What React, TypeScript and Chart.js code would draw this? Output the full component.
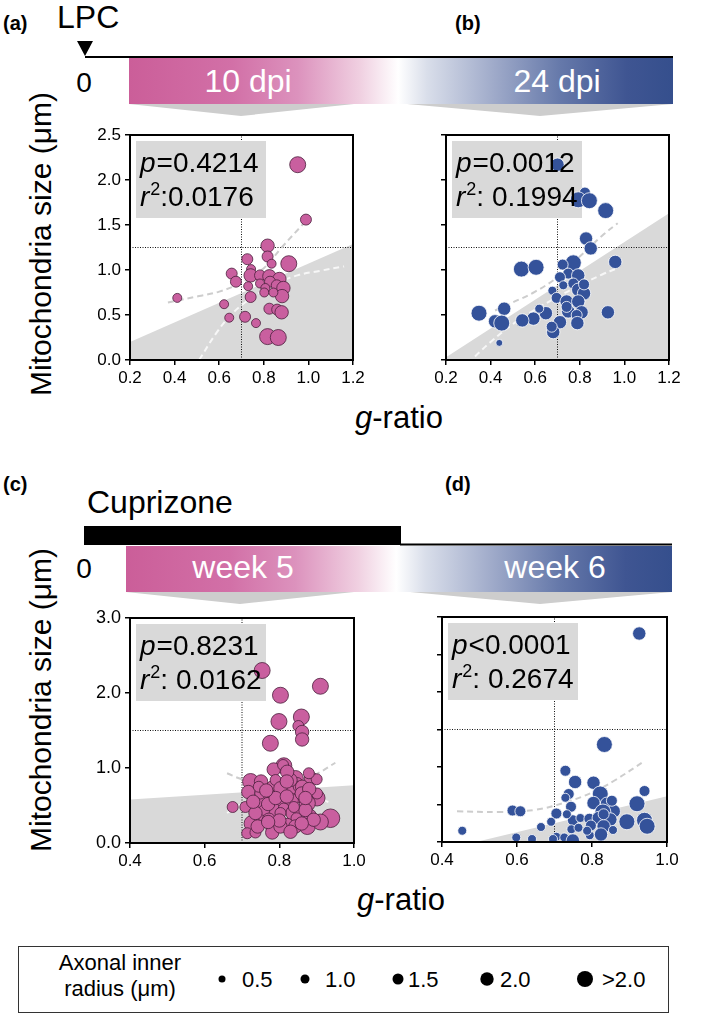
import React, { useEffect, useRef } from "react";
import { Chart, registerables } from "chart.js";
Chart.register(...registerables);

const FONT = "'Liberation Sans', Arial, Helvetica, sans-serif";

// ---------- data: [g-ratio, mitochondria size (µm), axonal inner radius (µm)] ----------
const lpc10Points: number[][] = [
  [0.952, 2.17, 2.5], [0.989, 1.56, 1.5], [0.817, 1.27, 2], [0.912, 1.07, 2.5], [0.726, 1.12, 1.5],
  [0.817, 1.15, 1.5], [0.835, 1.07, 1], [0.656, 0.96, 1.5], [0.675, 0.87, 1.5], [0.743, 1.01, 1],
  [0.741, 0.94, 2], [0.783, 0.94, 1.5], [0.825, 0.93, 2], [0.87, 0.9, 2], [0.73, 0.82, 1],
  [0.783, 0.85, 1], [0.828, 0.87, 1.5], [0.807, 0.8, 1], [0.858, 0.83, 1.5], [0.888, 0.8, 2],
  [0.882, 0.71, 2], [0.802, 0.75, 1], [0.741, 0.7, 1.5], [0.843, 0.75, 1], [0.622, 0.62, 1],
  [0.645, 0.47, 1], [0.716, 0.48, 1.5], [0.765, 0.41, 1], [0.825, 0.57, 1.5], [0.86, 0.56, 1.5],
  [0.88, 0.53, 2], [0.817, 0.26, 2.5], [0.865, 0.25, 2.5], [0.412, 0.69, 1],
];
const lpc24Points: number[][] = [
  [0.7, 2.17, 2], [0.823, 1.86, 1.5], [0.793, 1.78, 2.5], [0.843, 1.77, 2.5], [0.916, 1.66, 2.5],
  [0.828, 1.35, 2], [0.849, 1.24, 2], [0.959, 1.09, 2], [0.538, 1.01, 2.5], [0.604, 1.03, 2.5],
  [0.771, 1.08, 2.5], [0.723, 1.06, 1.5], [0.748, 0.96, 1.5], [0.793, 0.94, 2], [0.711, 0.92, 1.5],
  [0.771, 0.85, 1.5], [0.726, 0.83, 1], [0.793, 0.78, 2], [0.819, 0.74, 2], [0.677, 0.77, 1],
  [0.696, 0.69, 1.5], [0.741, 0.65, 2], [0.793, 0.65, 2], [0.808, 0.53, 2], [0.748, 0.54, 2],
  [0.741, 0.59, 1.5], [0.786, 0.5, 1.5], [0.789, 0.41, 2], [0.711, 0.42, 2], [0.681, 0.31, 2],
  [0.648, 0.52, 2], [0.618, 0.57, 1], [0.592, 0.46, 2], [0.542, 0.44, 2], [0.926, 0.53, 2],
  [0.348, 0.52, 2.5], [0.461, 0.57, 2], [0.42, 0.43, 2], [0.45, 0.41, 2.5], [0.439, 0.19, 0.5],
  [0.674, 0.37, 1.5], [0.819, 0.84, 1.5],
];
const cpz5Points: number[][] = [
  [0.754, 2.3, 2.5], [0.91, 2.09, 2.5], [0.803, 1.97, 2.5], [0.859, 1.68, 2.5], [0.799, 1.62, 2.5],
  [0.851, 1.56, 1.5], [0.861, 1.48, 2], [0.861, 1.38, 2], [0.776, 1.33, 2.5], [0.812, 1.03, 2.5],
  [0.785, 0.98, 2], [0.723, 0.82, 2.5], [0.751, 0.82, 2], [0.843, 0.86, 2.5], [0.885, 0.86, 2],
  [0.9, 0.85, 1.5], [0.848, 0.8, 1.5], [0.828, 0.71, 2], [0.785, 0.73, 2.5], [0.717, 0.68, 2],
  [0.776, 0.62, 2], [0.852, 0.61, 1.5], [0.901, 0.6, 2.5], [0.709, 0.48, 1.5], [0.675, 0.48, 1.5],
  [0.754, 0.55, 2], [0.812, 0.53, 2], [0.833, 0.57, 2], [0.875, 0.53, 2.5], [0.781, 0.44, 2.5],
  [0.812, 0.46, 1.5], [0.754, 0.34, 2], [0.839, 0.4, 2.5], [0.879, 0.35, 2.5], [0.937, 0.33, 3],
  [0.846, 0.33, 1.5], [0.727, 0.26, 2.5], [0.785, 0.22, 2.5], [0.821, 0.24, 2], [0.875, 0.22, 2.5],
  [0.714, 0.13, 1.5], [0.736, 0.14, 1.5], [0.781, 0.14, 2], [0.843, 0.22, 2], [0.91, 0.28, 2.5],
  [0.81, 1.04, 1.5], [0.749, 0.66, 1.5], [0.803, 0.4, 1.5], [0.852, 0.75, 1.5], [0.83, 0.84, 2],
  [0.79, 0.84, 1.5], [0.901, 0.66, 1.5], [0.87, 0.44, 2], [0.839, 0.48, 1.5], [0.76, 0.44, 1.5],
  [0.736, 0.4, 2], [0.745, 0.75, 1.5], [0.803, 0.73, 2], [0.821, 0.95, 2], [0.879, 0.93, 1.5],
  [0.861, 0.75, 2], [0.803, 0.22, 2], [0.892, 0.31, 2], [0.772, 0.31, 2],
  [0.73, 0.55, 2], [0.77, 0.52, 2], [0.79, 0.6, 2], [0.82, 0.62, 2], [0.86, 0.66, 2],
  [0.88, 0.72, 2], [0.742, 0.22, 2], [0.8, 0.3, 2], [0.86, 0.26, 2], [0.83, 0.15, 2],
  [0.765, 0.7, 2], [0.82, 0.82, 2], [0.87, 0.6, 2], [0.77, 0.28, 2],
];
const cpz6Points: number[][] = [
  [0.926, 2.78, 2], [0.833, 1.3, 2.5], [0.729, 0.95, 1.5], [0.755, 0.8, 2], [0.804, 0.79, 2],
  [0.738, 0.64, 1.5], [0.822, 0.64, 2.5], [0.94, 0.68, 1.5], [0.729, 0.59, 1], [0.92, 0.51, 2.5],
  [0.804, 0.52, 2], [0.84, 0.51, 2], [0.744, 0.47, 1.5], [0.588, 0.42, 1.5], [0.609, 0.41, 1.5],
  [0.705, 0.38, 1.5], [0.858, 0.41, 2], [0.829, 0.4, 2.5], [0.749, 0.29, 1.5], [0.769, 0.32, 1],
  [0.793, 0.31, 1.5], [0.818, 0.32, 2], [0.849, 0.3, 2], [0.893, 0.27, 2.5], [0.94, 0.29, 2.5],
  [0.947, 0.21, 2.5], [0.691, 0.27, 1], [0.664, 0.2, 1], [0.797, 0.22, 1.5], [0.831, 0.21, 2],
  [0.745, 0.17, 1], [0.856, 0.16, 1], [0.794, 0.09, 1], [0.824, 0.1, 2], [0.705, 0.07, 1],
  [0.726, 0.06, 1], [0.749, 0.02, 2], [0.696, 0.04, 1], [0.64, 0.04, 1], [0.598, 0.06, 1],
  [0.454, 0.15, 1], [0.764, 0.19, 1], [0.787, 0.15, 1], [0.831, 0.37, 1.5], [0.853, 0.55, 1.5],
  [0.733, 0.37, 1],
];

// confidence bands (upper / lower) [g-ratio, size]
const lpc10Upper: number[][] = [[0.37, 0.64], [0.51, 0.71], [0.6, 0.76], [0.7, 0.86], [0.8, 1.02], [0.88, 1.25], [0.98, 1.52]];
const lpc10Lower: number[][] = [[0.51, 0.0], [0.59, 0.31], [0.66, 0.52], [0.74, 0.68], [0.85, 0.84], [0.95, 0.94], [1.05, 0.99], [1.16, 1.04]];
const lpc24Upper: number[][] = [[0.42, 0.55], [0.5, 0.64], [0.6, 0.76], [0.7, 0.92], [0.8, 1.15], [0.9, 1.38], [0.97, 1.52]];
const lpc24Lower: number[][] = [[0.33, 0.04], [0.4, 0.2], [0.5, 0.4], [0.6, 0.56], [0.7, 0.7], [0.8, 0.83], [0.9, 0.95], [0.97, 1.02]];
const cpz5Upper: number[][] = [[0.66, 0.93], [0.7, 0.85], [0.75, 0.8], [0.8, 0.79], [0.85, 0.82], [0.9, 0.92], [0.95, 1.07]];
const cpz5Lower: number[][] = [[0.66, 0.4], [0.7, 0.52], [0.75, 0.6], [0.8, 0.63], [0.85, 0.64], [0.9, 0.6], [0.94, 0.53]];
const cpz6Upper: number[][] = [[0.44, 0.41], [0.55, 0.4], [0.65, 0.43], [0.73, 0.53], [0.8, 0.66], [0.86, 0.82], [0.94, 1.08]];
const cpz6Lower: number[][] = [];

// shaded regions (upper edge, filled down to 0)
const lpc10Shade: number[][] = [[0.2, 0.2], [1.2, 1.29]];
const lpc24Shade: number[][] = [[0.2, 0.03], [1.2, 1.63]];
const cpz5Shade: number[][] = [[0.4, 0.58], [1.0, 0.77]];
const cpz6Shade: number[][] = [[0.49, 0.0], [1.0, 0.61]];

// reference lines
const gRatioRef = 0.7;
const lpcSizeRef = 1.25;
const cpzSizeRef = 1.5;

// ticks
const lpcXTicks = [0.2, 0.4, 0.6, 0.8, 1.0, 1.2];
const lpcYTicks = [0, 0.5, 1.0, 1.5, 2.0, 2.5];
const cpzXTicks = [0.4, 0.6, 0.8, 1.0];
const cpzYTicksLabeled = [0, 1.0, 2.0, 3.0];
const cpzYTicksMinor = [0, 0.5, 1.0, 1.5, 2.0, 2.5, 3.0];

// statistics
const pValues = ["=0.4214", "=0.0012", "=0.8231", "<0.0001"];
const r2Values = [":0.0176", ": 0.1994", ": 0.0162", ": 0.2674"];

// legend
const legendSizes = [0.5, 1.0, 1.5, 2.0, 2.5];
const legendLabels = ["0.5", "1.0", "1.5", "2.0", ">2.0"];

const PINK = "#c95f9f";
const PINK_EDGE = "#4a1f3c";
const BLUE = "#34529a";
const BLUE_EDGE = "#ffffff";

function sizeToPx(s: number): number {
  if (s <= 0.5) return 3.5;
  if (s <= 1.0) return 4.5;
  if (s <= 1.5) return 5.5;
  if (s <= 2.0) return 6.7;
  if (s <= 2.5) return 8;
  return 9.3;
}

type Run = { t: string; it?: boolean; sup?: boolean };
function drawRuns(ctx: CanvasRenderingContext2D, x: number, y: number, runs: Run[]) {
  let cx = x;
  for (const r of runs) {
    const size = r.sup ? 18 : 28;
    ctx.font = `${r.it ? "italic " : ""}${size}px ${FONT}`;
    ctx.fillText(r.t, cx, r.sup ? y - 11 : y);
    cx += ctx.measureText(r.t).width + (r.it ? 1 : 0);
  }
}

interface PanelProps {
  area: { l: number; t: number; r: number; b: number };
  points: number[][];
  color: string;
  edge: string;
  upper: number[][];
  lower: number[][];
  shade: number[][];
  xRef: number;
  yRef: number;
  xMin: number; xMax: number; yMin: number; yMax: number;
  xTicks: number[]; yTicks: number[];
  showYLabels: boolean;
  yFont: number;
  pText: string; rText: string;
}

function ScatterPanel(p: PanelProps) {
  const ref = useRef<HTMLCanvasElement>(null);
  const ml = 70, mt = 15, mr = 30, mb = 40;
  const W = p.area.r - p.area.l + ml + mr;
  const H = p.area.b - p.area.t + mt + mb;
  useEffect(() => {
    if (!ref.current) return;
    const toXY = (arr: number[][]) => arr.map(([x, y]) => ({ x, y }));
    const statPlugin = {
      id: "statbox",
      beforeDatasetDraw(chart: any, args: any) {
        if (args.index !== 0) return;
        const { ctx, chartArea: a } = chart;
        ctx.save();
        ctx.fillStyle = "#d9d9d9";
        ctx.fillRect(a.left + 6, a.top + 6, 130, 77);
        ctx.restore();
      },
      afterDatasetsDraw(chart: any) {
        const { ctx, chartArea: a } = chart;
        ctx.save();
        ctx.fillStyle = "#000";
        ctx.textBaseline = "alphabetic";
        drawRuns(ctx, a.left + 10, a.top + 37, [{ t: "p", it: true }, { t: p.pText }]);
        drawRuns(ctx, a.left + 10, a.top + 71, [{ t: "r", it: true }, { t: "2", sup: true }, { t: p.rText }]);
        ctx.strokeStyle = "#000";
        ctx.lineWidth = 2;
        ctx.strokeRect(a.left, a.top, a.right - a.left, a.bottom - a.top);
        ctx.restore();
      },
    };
    const datasets: any[] = [
      {
        type: "scatter",
        data: p.points.map(([x, y, s]) => ({ x, y, s })),
        order: 0,
        pointRadius: (c: any) => sizeToPx(c.raw ? c.raw.s : 1),
        pointBackgroundColor: p.color,
        pointBorderColor: p.edge,
        pointBorderWidth: 0.8,
      },
      {
        type: "line", data: toXY(p.upper), borderColor: "#cdcdcd", borderWidth: 2,
        borderDash: [6, 4], pointRadius: 0, fill: false, tension: 0.4, order: 1,
      },
      {
        type: "line", data: toXY(p.lower), borderColor: "#f7f7f7", borderWidth: 2,
        borderDash: [6, 4], pointRadius: 0, fill: false, tension: 0.4, order: 1,
      },
      {
        type: "line", data: [{ x: p.xRef, y: p.yMin }, { x: p.xRef, y: p.yMax }],
        borderColor: "#111", borderWidth: 1, borderDash: [1, 1.5], pointRadius: 0, fill: false, order: 2,
      },
      {
        type: "line", data: [{ x: p.xMin, y: p.yRef }, { x: p.xMax, y: p.yRef }],
        borderColor: "#111", borderWidth: 1, borderDash: [1, 1.5], pointRadius: 0, fill: false, order: 2,
      },
      {
        type: "line", data: toXY(p.shade), borderWidth: 0, borderColor: "rgba(0,0,0,0)",
        backgroundColor: "#d9d9d9", pointRadius: 0, fill: "origin", tension: 0, order: 3,
      },
    ];
    const tickFont = { family: FONT, size: 17 };
    const chart = new Chart(ref.current, {
      type: "scatter",
      data: { datasets },
      options: {
        responsive: false,
        animation: false,
        events: [],
        layout: { padding: { left: 0, top: mt, right: mr, bottom: 0 } },
        plugins: { legend: { display: false }, tooltip: { enabled: false } },
        scales: {
          x: {
            type: "linear", min: p.xMin, max: p.xMax,
            afterFit: (s: any) => { s.height = mb; },
            afterBuildTicks: (s: any) => { s.ticks = p.xTicks.map((v) => ({ value: v })); },
            ticks: {
              callback: (v: any) => Number(v).toFixed(1), font: tickFont, color: "#000",
              padding: 3, autoSkip: false, maxRotation: 0,
            },
            grid: { display: true, drawOnChartArea: false, drawTicks: true, tickLength: 5, color: "#000", lineWidth: 1.5 },
            border: { display: false },
          },
          y: {
            type: "linear", min: p.yMin, max: p.yMax,
            afterFit: (s: any) => { s.width = ml; },
            afterBuildTicks: (s: any) => { s.ticks = p.yTicks.map((v) => ({ value: v })); },
            ticks: {
              callback: (v: any) => (p.showYLabels ? Number(v).toFixed(1) : ""),
              font: { family: FONT, size: p.yFont }, color: "#000", padding: 4, autoSkip: false,
            },
            grid: { display: true, drawOnChartArea: false, drawTicks: true, tickLength: 5, color: "#000", lineWidth: 1.5 },
            border: { display: false },
          },
        },
      } as any,
      plugins: [statPlugin],
    });
    return () => chart.destroy();
  }, []);
  return (
    <canvas
      ref={ref}
      width={W}
      height={H}
      style={{ position: "absolute", left: p.area.l - ml, top: p.area.t - mt, width: W, height: H, display: "block" }}
    />
  );
}

function GradDefs({ id }: { id: string }) {
  return (
    <linearGradient id={id} x1="0" y1="0" x2="1" y2="0">
      <stop offset="0" stopColor="#cb5e99" />
      <stop offset="0.19" stopColor="#d270a7" />
      <stop offset="0.31" stopColor="#dc92bd" />
      <stop offset="0.425" stopColor="#f0d0e1" />
      <stop offset="0.495" stopColor="#ffffff" />
      <stop offset="0.548" stopColor="#d9deea" />
      <stop offset="0.669" stopColor="#a0abca" />
      <stop offset="0.792" stopColor="#6679aa" />
      <stop offset="0.915" stopColor="#3f5592" />
      <stop offset="1" stopColor="#354f8d" />
    </linearGradient>
  );
}

export default function App() {
  const legendDotX = [222, 305, 398, 487, 585];
  const legendTextX = [242, 325, 408, 500, 602];
  return (
    <div style={{ position: "absolute", left: 0, top: 0, width: 709, height: 1016, background: "#fff", overflow: "hidden" }}>
      <svg width={709} height={1016} style={{ position: "absolute", left: 0, top: 0 }} fontFamily={FONT}>
        <defs>
          <GradDefs id="g1" />
        </defs>
        {/* top header */}
        <text x={3} y={30} fontSize={20} fontWeight="bold">(a)</text>
        <text x={455} y={30} fontSize={20} fontWeight="bold">(b)</text>
        <text x={57} y={28} fontSize={32}>LPC</text>
        <polygon points="77,41 93,41 85,56" fill="#000" />
        <line x1={85} y1={57} x2={673} y2={57} stroke="#000" strokeWidth={2} />
        <rect x={129} y={58} width={544} height={46} fill="url(#g1)" />
        <polygon points="129,104 354,104 241,116" fill="#cdcdcd" />
        <polygon points="407,104 673,104 540,116" fill="#cdcdcd" />
        <text x={84} y={92} fontSize={28} textAnchor="middle">0</text>
        <text x={248} y={92} fontSize={32} fill="#fff" textAnchor="middle">10 dpi</text>
        <text x={557} y={92} fontSize={32} fill="#fff" textAnchor="middle">24 dpi</text>

        {/* bottom header */}
        <text x={3} y={491} fontSize={20} fontWeight="bold">(c)</text>
        <text x={445} y={491} fontSize={20} fontWeight="bold">(d)</text>
        <text x={87} y={513} fontSize={32}>Cuprizone</text>
        <rect x={84} y={526} width={317} height={19} fill="#000" />
        <line x1={400} y1={544.5} x2={672} y2={544.5} stroke="#000" strokeWidth={2} />
        <rect x={126} y={546} width={546} height={46} fill="url(#g1)" />
        <polygon points="126,592 354,592 240,604" fill="#cdcdcd" />
        <polygon points="410,592 672,592 540,604" fill="#cdcdcd" />
        <text x={84} y={578} fontSize={28} textAnchor="middle">0</text>
        <text x={243} y={578} fontSize={32} fill="#fff" textAnchor="middle">week 5</text>
        <text x={555} y={578} fontSize={32} fill="#fff" textAnchor="middle">week 6</text>

        {/* axis titles */}
        <text transform="translate(40,244) rotate(-90)" fontSize={30} textAnchor="middle" dominantBaseline="central">Mitochondria size (μm)</text>
        <text transform="translate(40,700) rotate(-90)" fontSize={30} textAnchor="middle" dominantBaseline="central">Mitochondria size (μm)</text>
        <text x={399} y={428} fontSize={31} textAnchor="middle"><tspan fontStyle="italic">g</tspan>-ratio</text>
        <text x={401} y={910} fontSize={31} textAnchor="middle"><tspan fontStyle="italic">g</tspan>-ratio</text>

        {/* legend */}
        <rect x={18.5} y={946.5} width={650} height={66} fill="none" stroke="#333" strokeWidth={1} />
        <text x={120} y={970} fontSize={22} textAnchor="middle">Axonal inner</text>
        <text x={120} y={996} fontSize={22} textAnchor="middle">radius (μm)</text>
        {legendSizes.map((s, i) => (
          <g key={i}>
            <circle cx={legendDotX[i]} cy={979} r={sizeToPx(s)} fill="#000" />
            <text x={legendTextX[i]} y={987} fontSize={22}>{legendLabels[i]}</text>
          </g>
        ))}
      </svg>

      <ScatterPanel area={{ l: 130, t: 135, r: 353, b: 360 }} points={lpc10Points} color={PINK} edge={PINK_EDGE}
        upper={lpc10Upper} lower={lpc10Lower} shade={lpc10Shade} xRef={gRatioRef} yRef={lpcSizeRef}
        xMin={0.2} xMax={1.2} yMin={0} yMax={2.5} xTicks={lpcXTicks} yTicks={lpcYTicks} showYLabels={true} yFont={17}
        pText={pValues[0]} rText={r2Values[0]} />
      <ScatterPanel area={{ l: 446, t: 135, r: 669, b: 360 }} points={lpc24Points} color={BLUE} edge={BLUE_EDGE}
        upper={lpc24Upper} lower={lpc24Lower} shade={lpc24Shade} xRef={gRatioRef} yRef={lpcSizeRef}
        xMin={0.2} xMax={1.2} yMin={0} yMax={2.5} xTicks={lpcXTicks} yTicks={lpcYTicks} showYLabels={false} yFont={17}
        pText={pValues[1]} rText={r2Values[1]} />
      <ScatterPanel area={{ l: 130, t: 618, r: 354, b: 843 }} points={cpz5Points} color={PINK} edge={PINK_EDGE}
        upper={cpz5Upper} lower={cpz5Lower} shade={cpz5Shade} xRef={gRatioRef} yRef={cpzSizeRef}
        xMin={0.4} xMax={1.0} yMin={0} yMax={3.0} xTicks={cpzXTicks} yTicks={cpzYTicksLabeled} showYLabels={true} yFont={18}
        pText={pValues[2]} rText={r2Values[2]} />
      <ScatterPanel area={{ l: 442, t: 617, r: 667, b: 842 }} points={cpz6Points} color={BLUE} edge={BLUE_EDGE}
        upper={cpz6Upper} lower={cpz6Lower} shade={cpz6Shade} xRef={gRatioRef} yRef={cpzSizeRef}
        xMin={0.4} xMax={1.0} yMin={0} yMax={3.0} xTicks={cpzXTicks} yTicks={cpzYTicksMinor} showYLabels={false} yFont={17}
        pText={pValues[3]} rText={r2Values[3]} />
    </div>
  );
}
